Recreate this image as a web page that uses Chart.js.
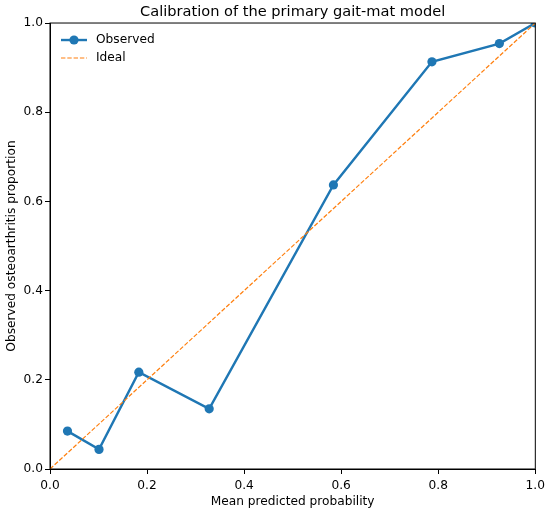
<!DOCTYPE html>
<html>
<head>
<meta charset="utf-8">
<title>Calibration of the primary gait-mat model</title>
<script src="https://cdn.jsdelivr.net/npm/chart.js@4.4.1/dist/chart.umd.min.js"></script>
<style>
  html, body { margin: 0; padding: 0; background: #fff; }
  #wrap { width: 550px; height: 513px; }
</style>
</head>
<body>
<div id="wrap"><canvas id="calibChart" width="550" height="513"></canvas></div>
<script>
// calibration bins
const meanPredicted = [0.036, 0.101, 0.183, 0.328, 0.584, 0.787, 0.926, 1.0];
const observedProportion = [0.085, 0.044, 0.217, 0.135, 0.637, 0.913, 0.954, 1.0];
const idealX = [0, 1];
const idealY = [0, 1];
const tickValues = [0, 0.2, 0.4, 0.6, 0.8, 1.0];

const BLUE = '#1f77b4';
const ORANGE = '#ff7f0e';
const FONT = 'DejaVu Sans';

const toPoints = (xs, ys) => xs.map((x, i) => ({ x: x, y: ys[i] }));

// top and right spines, plus the legend inside the axes
const framePlugin = {
    id: 'frame',
    afterDatasetsDraw(chart) {
        const { ctx, chartArea: a } = chart;
        ctx.save();
        ctx.strokeStyle = '#000';
        ctx.lineWidth = 1;
        ctx.strokeRect(a.left, a.top, a.right - a.left, a.bottom - a.top);

        // legend
        const x0 = a.left + 11, x1 = a.left + 37, tx = a.left + 46;
        const rows = [
            { label: 'Observed', y: a.top + 17, ds: chart.data.datasets[0] },
            { label: 'Ideal', y: a.top + 35, ds: chart.data.datasets[1] }
        ];
        rows.forEach(r => {
            ctx.beginPath();
            ctx.strokeStyle = r.ds.borderColor;
            ctx.lineWidth = r.ds.borderWidth;
            ctx.setLineDash(r.ds.borderDash || []);
            ctx.moveTo(x0, r.y);
            ctx.lineTo(x1, r.y);
            ctx.stroke();
            ctx.setLineDash([]);
            if (r.ds.pointRadius > 0) {
                ctx.beginPath();
                ctx.fillStyle = r.ds.pointBackgroundColor;
                ctx.arc((x0 + x1) / 2, r.y, r.ds.pointRadius, 0, Math.PI * 2);
                ctx.fill();
            }
            ctx.fillStyle = '#000';
            ctx.font = '12.2px "' + FONT + '"';
            ctx.textBaseline = 'middle';
            ctx.textAlign = 'left';
            ctx.fillText(r.label, tx, r.y);
        });
        ctx.restore();
    }
};

const axisCommon = {
    type: 'linear',
    min: 0,
    max: 1,
    afterBuildTicks: scale => { scale.ticks = tickValues.map(v => ({ value: v })); },
    grid: {
        drawOnChartArea: false,
        drawTicks: true,
        tickLength: 5,
        tickColor: '#000',
        tickWidth: 1
    },
    border: { display: true, color: '#000', width: 1 },
    ticks: {
        color: '#000',
        padding: 2,
        font: { family: FONT, size: 12.2 },
        callback: v => Number(v).toFixed(1)
    }
};

new Chart(document.getElementById('calibChart'), {
    type: 'scatter',
    data: {
        datasets: [
            {
                label: 'Observed',
                data: toPoints(meanPredicted, observedProportion),
                showLine: true,
                borderColor: BLUE,
                backgroundColor: BLUE,
                pointBackgroundColor: BLUE,
                pointBorderColor: BLUE,
                borderWidth: 2.4,
                pointRadius: 4.6,
                pointBorderWidth: 0,
                clip: 0,
                order: 1
            },
            {
                label: 'Ideal',
                data: toPoints(idealX, idealY),
                showLine: true,
                borderColor: ORANGE,
                backgroundColor: ORANGE,
                borderWidth: 1.2,
                borderDash: [4.4, 1.9],
                pointRadius: 0,
                clip: 0,
                order: 0
            }
        ]
    },
    options: {
        responsive: false,
        animation: false,
        devicePixelRatio: 1,
        layout: { padding: { left: 0, right: 14, top: 0, bottom: 0 } },
        plugins: {
            legend: { display: false },
            tooltip: { enabled: false },
            title: {
                display: true,
                fullSize: false,
                text: 'Calibration of the primary gait-mat model',
                color: '#000',
                font: { family: FONT, size: 14.6, weight: 'normal' },
                padding: { top: 3.3, bottom: 2.2 }
            }
        },
        scales: {
            x: Object.assign({}, axisCommon, {
                position: 'bottom',
                afterFit: scale => { scale.height = 44; },
                ticks: Object.assign({}, axisCommon.ticks, { padding: 5 }),
                title: {
                    display: true,
                    text: 'Mean predicted probability',
                    color: '#000',
                    font: { family: FONT, size: 12.2 },
                    padding: { top: 0, bottom: 4.3 }
                }
            }),
            y: Object.assign({}, axisCommon, {
                position: 'left',
                afterFit: scale => { scale.width = 50; },
                title: {
                    display: true,
                    text: 'Observed osteoarthritis proportion',
                    color: '#000',
                    font: { family: FONT, size: 12.2 },
                    padding: { top: 4.8, bottom: 0 }
                }
            })
        }
    },
    plugins: [framePlugin]
});
</script>
</body>
</html>
